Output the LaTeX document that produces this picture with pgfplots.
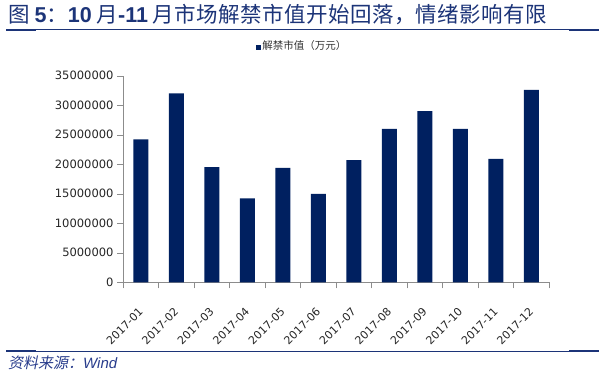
\documentclass[border=0pt]{standalone}
\usepackage{pgfplots}
\pgfplotsset{compat=1.18}
\usepackage{fontspec}
\setmainfont{DejaVu Sans}
\newfontfamily\cjk{Noto Sans CJK SC}
\newfontfamily\cjkit{Noto Sans CJK SC}[FakeSlant=0.2]
\newfontfamily\arial{Liberation Sans}
\definecolor{navy}{RGB}{0,32,96}
\definecolor{titleblue}{RGB}{28,52,120}
\definecolor{srcblue}{RGB}{40,60,140}
\begin{document}
\begin{tikzpicture}[x=1pt,y=1pt]
\path[use as bounding box] (0,0) rectangle (601,377);
% title
\node[anchor=west, inner sep=0, text=titleblue] at (8,362)
  {\fontsize{21.5}{24}\selectfont\cjk 图 {\arial\bfseries 5}：{\arial\bfseries 10} 月{\arial\bfseries -11} 月\hspace{0.5pt}市\hspace{0.5pt}场\hspace{0.5pt}解\hspace{0.5pt}禁\hspace{0.5pt}市\hspace{0.5pt}值\hspace{0.5pt}开\hspace{0.5pt}始\hspace{0.5pt}回\hspace{0.5pt}落，情\hspace{0.5pt}绪\hspace{0.5pt}影\hspace{0.5pt}响\hspace{0.5pt}有\hspace{0.5pt}限};
% rules
\draw[titleblue, line width=1pt] (6,347) -- (599,347);
\draw[titleblue, line width=2.6pt] (6,347) -- (36,347);
\draw[titleblue, line width=2.6pt] (569,347) -- (599,347);
\draw[titleblue, line width=1pt] (6,26) -- (599,26);
\draw[titleblue, line width=2.6pt] (6,26) -- (36,26);
\draw[titleblue, line width=2.6pt] (569,26) -- (599,26);
% source
\node[anchor=west, inner sep=0, text=srcblue] at (8,14)
  {\fontsize{15}{17}\selectfont{\cjkit 资料来源：}{\arial\itshape Wind}};
% legend
\node[anchor=center, inner sep=0, text=black!80] at (301,331)
  {\textcolor{navy}{\rule{5pt}{5pt}}\hspace{1.5pt}{\fontsize{10.5}{12}\selectfont\cjk 解禁市值（万元）}};
\begin{axis}[
  at={(123pt,94.7pt)}, anchor=south west,
  scale only axis, width=426pt, height=206.6pt,
  xmin=-0.5, xmax=11.5, ymin=0, ymax=35000000,
  axis x line=bottom, axis y line=left,
  axis line style={-, draw=black!45},
  tick align=outside,
  major tick length=6pt, minor tick length=6pt,
  ytick={0,5000000,10000000,15000000,20000000,25000000,30000000,35000000},
  scaled y ticks=false,
  yticklabel style={/pgf/number format/fixed, /pgf/number format/1000 sep={}, /pgf/number format/assume math mode=true, font=\fontsize{11.5}{13}\selectfont, text=black!85},
  ytick style={draw=black!45},
  xtick={0,...,11},
  xticklabels={2017-01,2017-02,2017-03,2017-04,2017-05,2017-06,2017-07,2017-08,2017-09,2017-10,2017-11,2017-12},
  major x tick style={draw=none},
  minor xtick={-0.5,0.5,...,11.5},
  minor x tick style={draw=black!45},
  xticklabel style={rotate=45, anchor=north east, font=\fontsize{11}{13}\selectfont, text=black!85, xshift=-11.5pt, yshift=-7.5pt},
  clip=false,
]
\addplot[ybar, bar width=15pt, fill=navy, draw=none] coordinates {
(0,24200000) (1,32000000) (2,19500000) (3,14200000) (4,19400000) (5,15000000)
(6,20700000) (7,26000000) (8,29000000) (9,26000000) (10,20900000) (11,32600000)
};
\end{axis}
\end{tikzpicture}
\end{document}
